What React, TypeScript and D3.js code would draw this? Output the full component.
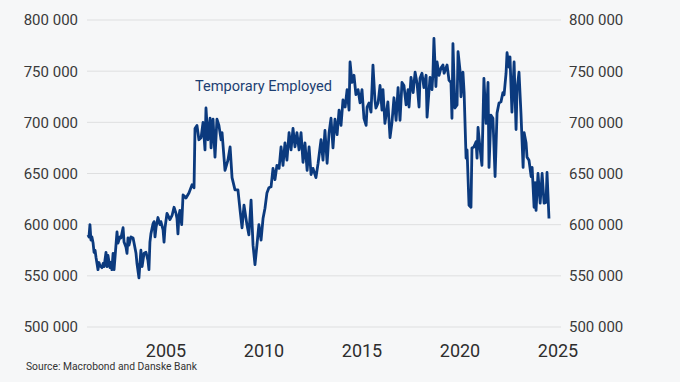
import React from "react";
import * as d3 from "d3";

const yTicks = [500000, 550000, 600000, 650000, 700000, 750000, 800000];
const xTicks = [2005, 2010, 2015, 2020, 2025];
const seriesName = "Temporary Employed";
const sourceNote = "Source: Macrobond and Danske Bank";

// [decimal year, persons in thousands]
const temporaryEmployed: [number, number][] = [
  [2001.02, 590], [2001.07, 588], [2001.12, 600], [2001.17, 585], [2001.22, 588], [2001.28, 582],
  [2001.33, 573], [2001.38, 575], [2001.43, 568], [2001.48, 562], [2001.53, 556], [2001.58, 563],
  [2001.63, 560], [2001.73, 558], [2001.79, 562], [2001.84, 559], [2001.94, 573], [2001.99, 559],
  [2002.04, 570], [2002.14, 558], [2002.19, 563], [2002.24, 556], [2002.30, 572], [2002.35, 556],
  [2002.50, 593], [2002.55, 582], [2002.65, 588], [2002.70, 587], [2002.81, 597], [2002.86, 583],
  [2002.96, 578], [2003.01, 572], [2003.06, 587], [2003.11, 580], [2003.21, 588], [2003.32, 587],
  [2003.37, 582], [2003.47, 572], [2003.52, 562], [2003.62, 548], [2003.67, 562], [2003.72, 575],
  [2003.78, 559], [2003.88, 572], [2003.98, 573], [2004.08, 565], [2004.13, 556], [2004.18, 583],
  [2004.23, 591], [2004.34, 601], [2004.39, 603], [2004.44, 588], [2004.49, 597], [2004.59, 607],
  [2004.69, 600], [2004.74, 603], [2004.85, 595], [2004.90, 583], [2004.95, 597], [2005.05, 611],
  [2005.10, 609], [2005.20, 605], [2005.31, 609], [2005.41, 617], [2005.51, 611], [2005.56, 606],
  [2005.61, 591], [2005.66, 609], [2005.71, 614], [2005.80, 600], [2005.87, 629], [2006.02, 626],
  [2006.17, 631], [2006.33, 639], [2006.43, 636], [2006.48, 694], [2006.58, 697], [2006.68, 683],
  [2006.79, 685], [2006.89, 700], [2006.99, 673], [2007.04, 714], [2007.14, 683], [2007.25, 704],
  [2007.30, 675], [2007.40, 703], [2007.50, 666], [2007.60, 703], [2007.70, 697], [2007.81, 683],
  [2007.86, 690], [2008.01, 653], [2008.16, 663], [2008.27, 676], [2008.37, 646], [2008.52, 634],
  [2008.67, 634], [2008.78, 614], [2008.88, 597], [2008.98, 619], [2009.13, 600], [2009.23, 590],
  [2009.34, 624], [2009.44, 580], [2009.54, 561], [2009.64, 580], [2009.74, 600], [2009.85, 585],
  [2009.95, 606], [2010.05, 616], [2010.15, 631], [2010.25, 636], [2010.36, 637], [2010.46, 655],
  [2010.56, 644], [2010.66, 658], [2010.77, 655], [2010.87, 676], [2010.97, 658], [2011.07, 680],
  [2011.17, 663], [2011.28, 690], [2011.38, 673], [2011.48, 694], [2011.58, 676], [2011.68, 690],
  [2011.79, 673], [2011.89, 690], [2011.99, 661], [2012.09, 680], [2012.20, 653], [2012.30, 676],
  [2012.40, 649], [2012.50, 655], [2012.65, 646], [2012.76, 660], [2012.91, 683], [2013.01, 663],
  [2013.11, 692], [2013.22, 660], [2013.32, 690], [2013.42, 704], [2013.52, 675], [2013.62, 703],
  [2013.73, 688], [2013.83, 712], [2013.93, 697], [2014.03, 722], [2014.14, 715], [2014.24, 732],
  [2014.34, 712], [2014.39, 759], [2014.49, 739], [2014.59, 746], [2014.69, 727], [2014.80, 732],
  [2014.90, 719], [2015.00, 732], [2015.10, 704], [2015.21, 697], [2015.26, 715], [2015.36, 719],
  [2015.46, 710], [2015.56, 756], [2015.66, 722], [2015.71, 714], [2015.82, 719], [2015.92, 736],
  [2016.02, 712], [2016.07, 732], [2016.17, 699], [2016.32, 720], [2016.43, 685], [2016.53, 700],
  [2016.63, 724], [2016.74, 702], [2016.84, 734], [2016.94, 702], [2017.04, 739], [2017.14, 736],
  [2017.25, 717], [2017.35, 732], [2017.40, 715], [2017.50, 744], [2017.61, 729], [2017.71, 749],
  [2017.81, 738], [2017.91, 715], [2017.96, 743], [2018.06, 748], [2018.16, 734], [2018.27, 746],
  [2018.32, 705], [2018.47, 744], [2018.57, 732], [2018.62, 748], [2018.67, 782], [2018.77, 735],
  [2018.83, 759], [2018.93, 746], [2019.03, 753], [2019.13, 756], [2019.19, 748], [2019.34, 756],
  [2019.44, 741], [2019.54, 739], [2019.59, 704], [2019.64, 777], [2019.74, 714], [2019.85, 717],
  [2019.90, 769], [2020.00, 751], [2020.05, 725], [2020.15, 749], [2020.21, 729], [2020.31, 665],
  [2020.36, 673], [2020.46, 619], [2020.56, 617], [2020.61, 675], [2020.71, 676], [2020.82, 681],
  [2020.87, 665], [2020.92, 695], [2021.02, 675], [2021.12, 658], [2021.22, 743], [2021.33, 699],
  [2021.43, 739], [2021.48, 656], [2021.58, 707], [2021.68, 704], [2021.79, 647], [2021.89, 709],
  [2021.99, 719], [2022.09, 720], [2022.19, 729], [2022.25, 727], [2022.35, 748], [2022.40, 768],
  [2022.50, 754], [2022.55, 764], [2022.65, 710], [2022.76, 759], [2022.86, 693], [2022.91, 732],
  [2023.01, 749], [2023.11, 709], [2023.22, 656], [2023.27, 690], [2023.37, 680], [2023.42, 666],
  [2023.52, 663], [2023.63, 647], [2023.68, 656], [2023.78, 617], [2023.83, 641], [2023.88, 614],
  [2023.98, 650], [2024.09, 621], [2024.19, 650], [2024.29, 621], [2024.39, 622], [2024.44, 651],
  [2024.54, 606],
];

const W = 680;
const H = 382;
const FONT = "Roboto, 'Liberation Sans', Arial, sans-serif";

export default function App() {
  const x = d3.scaleLinear().domain([2001, 2025]).range([87.6, 558]);
  const y = d3.scaleLinear().domain([500000, 800000]).range([327, 20]);
  const fmt = (v: number) => d3.format(",")(v).replace(/,/g, " ");
  const line = d3
    .line<[number, number]>()
    .x((d) => x(d[0]))
    .y((d) => y(d[1] * 1000));
  const path = line(temporaryEmployed) || "";

  return (
    <svg
      width={W}
      height={H}
      style={{ position: "absolute", left: 0, top: 0, display: "block" }}
      fontFamily={FONT}
    >
      <rect x={0} y={0} width={W} height={H} fill="#f6f7f8" />
      {yTicks.map((t) => (
        <g key={t}>
          <line x1={87} x2={561} y1={y(t)} y2={y(t)} stroke="#dedfe0" strokeWidth={1} />
          <text x={78} y={y(t)} dy="0.36em" textAnchor="end" fontSize={15} fill="#3a3a3a">
            {fmt(t)}
          </text>
          <text x={569} y={y(t)} dy="0.36em" textAnchor="start" fontSize={15} fill="#3a3a3a">
            {fmt(t)}
          </text>
        </g>
      ))}
      {xTicks.map((t) => (
        <text key={t} x={x(t)} y={357} textAnchor="middle" fontSize={18} fill="#2e2e2e">
          {t}
        </text>
      ))}
      <path d={path} fill="none" stroke="#0b3a7e" strokeWidth={2.8} strokeLinejoin="round" />
      <text x={195} y={91} fontSize={14.6} fill="#1d3f72">
        {seriesName}
      </text>
      <text x={26} y={370} fontSize={10.3} fill="#333">
        {sourceNote}
      </text>
    </svg>
  );
}
